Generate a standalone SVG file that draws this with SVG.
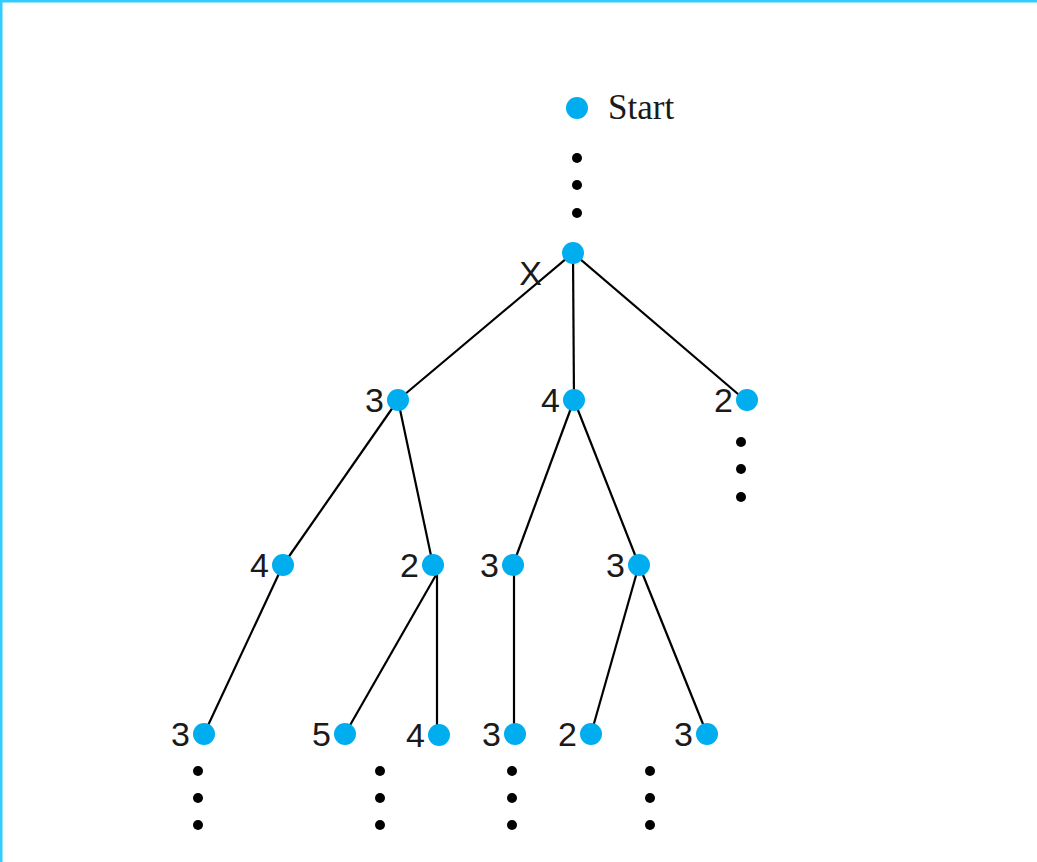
<svg xmlns="http://www.w3.org/2000/svg" width="1037" height="862" viewBox="0 0 1037 862">
  <style>
    .node { fill: #00aeef; }
    .dot { fill: #000; }
    .edge { stroke: #000; stroke-width: 2.2; fill: none; }
    .lbl { font-family: "Liberation Sans", Arial, sans-serif; font-size: 34px; fill: #1a1a1a; text-anchor: end; }
    .start { font-family: "Liberation Serif", "Times New Roman", serif; font-size: 35px; fill: #1a1a1a; }
  </style>
  <rect x="0" y="0" width="1037" height="862" fill="#fff"/>
  <path d="M1,862 V1 H1037" fill="none" stroke="#33ccff" stroke-width="3"/>

  <g id="connectors">
    <line class="edge" x1="573" y1="253" x2="398" y2="400"/>
    <line class="edge" x1="573" y1="253" x2="574" y2="400"/>
    <line class="edge" x1="573" y1="253" x2="745" y2="400"/>
    <line class="edge" x1="398" y1="400" x2="283" y2="565"/>
    <line class="edge" x1="398" y1="400" x2="433" y2="565"/>
    <line class="edge" x1="574" y1="400" x2="513" y2="565"/>
    <line class="edge" x1="574" y1="400" x2="639" y2="565"/>
    <line class="edge" x1="283" y1="565" x2="204" y2="734"/>
    <line class="edge" x1="436" y1="575" x2="345" y2="734"/>
    <line class="edge" x1="437" y1="570" x2="437" y2="735"/>
    <line class="edge" x1="514" y1="565" x2="514" y2="734"/>
    <line class="edge" x1="639" y1="565" x2="591" y2="734"/>
    <line class="edge" x1="639" y1="565" x2="707" y2="734"/>
  </g>

  <g id="start">
    <circle class="node" cx="577" cy="108" r="11"/>
    <text class="start" x="608" y="119">Start</text>
  </g>
  <g id="start-dots">
    <circle class="dot" cx="577" cy="158" r="5"/>
    <circle class="dot" cx="577" cy="185" r="5"/>
    <circle class="dot" cx="577" cy="213" r="5"/>
  </g>

  <g id="root">
    <circle class="node" cx="573" cy="253" r="11"/>
    <text class="lbl" x="542" y="285">X</text>
  </g>

  <g id="n1a"><circle class="node" cx="398" cy="400" r="11"/><text class="lbl" x="384" y="412">3</text></g>
  <g id="n1b"><circle class="node" cx="574" cy="400" r="11"/><text class="lbl" x="560" y="412">4</text></g>
  <g id="n1c"><circle class="node" cx="747" cy="400" r="11"/><text class="lbl" x="733" y="412">2</text></g>
  <g id="n1c-dots">
    <circle class="dot" cx="741" cy="442" r="5"/>
    <circle class="dot" cx="741" cy="469" r="5"/>
    <circle class="dot" cx="741" cy="497" r="5"/>
  </g>

  <g id="n2a"><circle class="node" cx="283" cy="565" r="11"/><text class="lbl" x="269" y="577">4</text></g>
  <g id="n2b"><circle class="node" cx="433" cy="565" r="11"/><text class="lbl" x="419" y="577">2</text></g>
  <g id="n2c"><circle class="node" cx="513" cy="565" r="11"/><text class="lbl" x="499" y="577">3</text></g>
  <g id="n2d"><circle class="node" cx="639" cy="565" r="11"/><text class="lbl" x="625" y="577">3</text></g>

  <g id="n3a"><circle class="node" cx="204" cy="734" r="11"/><text class="lbl" x="190" y="746">3</text></g>
  <g id="n3b"><circle class="node" cx="345" cy="734" r="11"/><text class="lbl" x="331" y="746">5</text></g>
  <g id="n3c"><circle class="node" cx="439" cy="735" r="11"/><text class="lbl" x="425" y="747">4</text></g>
  <g id="n3d"><circle class="node" cx="515" cy="734" r="11"/><text class="lbl" x="501" y="746">3</text></g>
  <g id="n3e"><circle class="node" cx="591" cy="734" r="11"/><text class="lbl" x="577" y="746">2</text></g>
  <g id="n3f"><circle class="node" cx="707" cy="734" r="11"/><text class="lbl" x="693" y="746">3</text></g>

  <g id="leaf-dots">
    <circle class="dot" cx="198" cy="771" r="5"/><circle class="dot" cx="198" cy="798" r="5"/><circle class="dot" cx="198" cy="825" r="5"/>
    <circle class="dot" cx="380" cy="771" r="5"/><circle class="dot" cx="380" cy="798" r="5"/><circle class="dot" cx="380" cy="825" r="5"/>
    <circle class="dot" cx="512" cy="771" r="5"/><circle class="dot" cx="512" cy="798" r="5"/><circle class="dot" cx="512" cy="825" r="5"/>
    <circle class="dot" cx="650" cy="771" r="5"/><circle class="dot" cx="650" cy="798" r="5"/><circle class="dot" cx="650" cy="825" r="5"/>
  </g>
</svg>
